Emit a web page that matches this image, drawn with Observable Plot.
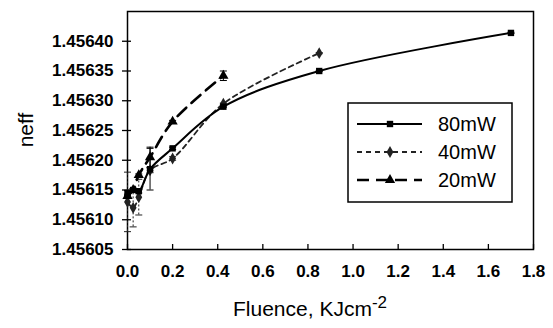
<!DOCTYPE html>
<html>
<head>
<meta charset="utf-8">
<script src="https://cdn.jsdelivr.net/npm/d3@7"></script>
<script src="https://cdn.jsdelivr.net/npm/@observablehq/plot@0.6"></script>
<style>
  html, body { margin: 0; padding: 0; background: #fff; }
  #chart { width: 553px; height: 328px; }
</style>
</head>
<body>
<div id="chart"></div>
<script>
// ---- data ----
const fluence = [0, 0.025, 0.05, 0.1, 0.2, 0.425, 0.85, 1.7];
const n80 = [1.456145, 1.456150, 1.456148, 1.456185, 1.456220, 1.456290, 1.456350, 1.456414];
const e80 = [0.000004, 0.000002, 0.000003, 0.000035, 0.000002, 0.000001, 0.000001, 0.000001];
const n40 = [1.456130, 1.456120, 1.456138, 1.456183, 1.456203, 1.456295, 1.456380];
const e40 = [0.000050, 0.000032, 0.000030, 0.000004, 0.000003, 0.000001, 0.000001];
const n20 = [1.456140, 1.456150, 1.456175, 1.456205, 1.456265, 1.456342];
const e20 = [0.000003, 0.000002, 0.000002, 0.000017, 0.000002, 0.000008];
const seriesNames = ["80mW", "40mW", "20mW"];
const xTicks = [0, 0.2, 0.4, 0.6, 0.8, 1.0, 1.2, 1.4, 1.6, 1.8];
const yTicks = [1.45605, 1.45610, 1.45615, 1.45620, 1.45625, 1.45630, 1.45635, 1.45640];

const rows = (name, ys, es) => ys.map((y, i) => ({series: name, x: fluence[i], y, e: es[i]}));
const d80 = rows("80mW", n80, e80);
const d40 = rows("40mW", n40, e40);
const d20 = rows("20mW", n20, e20);

const styles = {
  "80mW": {stroke: "#000", strokeWidth: 2, dash: null, symbol: "square", r: 3.6},
  "40mW": {stroke: "#222", strokeWidth: 1.8, dash: "5,4", symbol: "diamond", r: 3.6},
  "20mW": {stroke: "#000", strokeWidth: 2.6, dash: "12,7", symbol: "triangle", r: 3.8}
};

const capSymbol = {draw(ctx, size) { const w = 3.5; ctx.moveTo(-w, 0); ctx.lineTo(w, 0); }};

function seriesMarks(data) {
  const s = styles[data[0].series];
  return [
    Plot.ruleX(data, {x: "x", y1: d => d.y - d.e, y2: d => d.y + d.e, stroke: s.stroke, strokeWidth: 1,
      strokeDasharray: data[0].series === "40mW" ? "2,2" : null}),
    Plot.dot(data, {x: "x", y: d => d.y + d.e, symbol: capSymbol, stroke: s.stroke, strokeWidth: 1, r: 3}),
    Plot.dot(data, {x: "x", y: d => d.y - d.e, symbol: capSymbol, stroke: s.stroke, strokeWidth: 1, r: 3}),
    Plot.line(data, {x: "x", y: "y", stroke: s.stroke, strokeWidth: s.strokeWidth, strokeDasharray: s.dash, curve: "catmull-rom"}),
    Plot.dot(data, {x: "x", y: "y", symbol: s.symbol, fill: s.stroke, r: s.r})
  ];
}

const font = "'Liberation Sans', Arial, sans-serif";

const svg = Plot.plot({
  width: 553,
  height: 328,
  marginLeft: 127,
  marginRight: 20,
  marginTop: 11,
  marginBottom: 79,
  style: {fontFamily: font, background: "#fff", color: "#000"},
  x: {domain: [0, 1.8]},
  y: {domain: [1.45605, 1.45645]},
  marks: [
    Plot.frame({stroke: "#000", strokeWidth: 1.5}),
    Plot.axisY({ticks: yTicks, tickFormat: d => d.toFixed(5), tickSize: 5, tickPadding: 9, label: null,
      fontSize: 17, fontWeight: "bold", strokeWidth: 1.3}),
    Plot.axisY({ticks: yTicks, tickFormat: () => "", tickSize: -4, label: null, strokeWidth: 1.3}),
    Plot.axisX({ticks: xTicks, tickFormat: () => "", tickSize: -5, label: null, strokeWidth: 1.3}),
    Plot.axisX({ticks: xTicks, tickFormat: d => d.toFixed(1), tickSize: 0, tickPadding: 15, label: null,
      fontSize: 17, fontWeight: "bold"}),
    ...seriesMarks(d40),
    ...seriesMarks(d20),
    ...seriesMarks(d80)
  ]
});

const root = d3.select(svg);

// axis titles
root.append("text")
  .attr("transform", "translate(33,130) rotate(-90)")
  .attr("text-anchor", "middle")
  .attr("font-family", font).attr("font-size", 21)
  .text("neff");

const xl = root.append("text")
  .attr("x", 233).attr("y", 316)
  .attr("text-anchor", "start")
  .attr("font-family", font).attr("font-size", 21);
xl.append("tspan").text("Fluence, KJcm");
xl.append("tspan").attr("dy", -8).attr("font-size", 17).text("-2");

// legend
const lg = root.append("g");
lg.append("rect").attr("x", 348).attr("y", 103).attr("width", 164).attr("height", 99)
  .attr("fill", "#fff").attr("stroke", "#000").attr("stroke-width", 1.5);
const symMap = {square: d3.symbolSquare, diamond: d3.symbolDiamond, triangle: d3.symbolTriangle};
seriesNames.forEach((name, i) => {
  const s = styles[name];
  const cy = 124 + i * 28;
  lg.append("line").attr("x1", 357).attr("x2", 422).attr("y1", cy).attr("y2", cy)
    .attr("stroke", s.stroke).attr("stroke-width", s.strokeWidth)
    .attr("stroke-dasharray", s.dash);
  lg.append("path").attr("transform", `translate(390,${cy})`)
    .attr("d", d3.symbol(symMap[s.symbol], Math.PI * s.r * s.r)())
    .attr("fill", s.stroke);
  lg.append("text").attr("x", 438).attr("y", cy + 7)
    .attr("text-anchor", "start")
    .attr("font-family", font).attr("font-size", 20).text(name);
});

document.getElementById("chart").appendChild(svg);
</script>
</body>
</html>
